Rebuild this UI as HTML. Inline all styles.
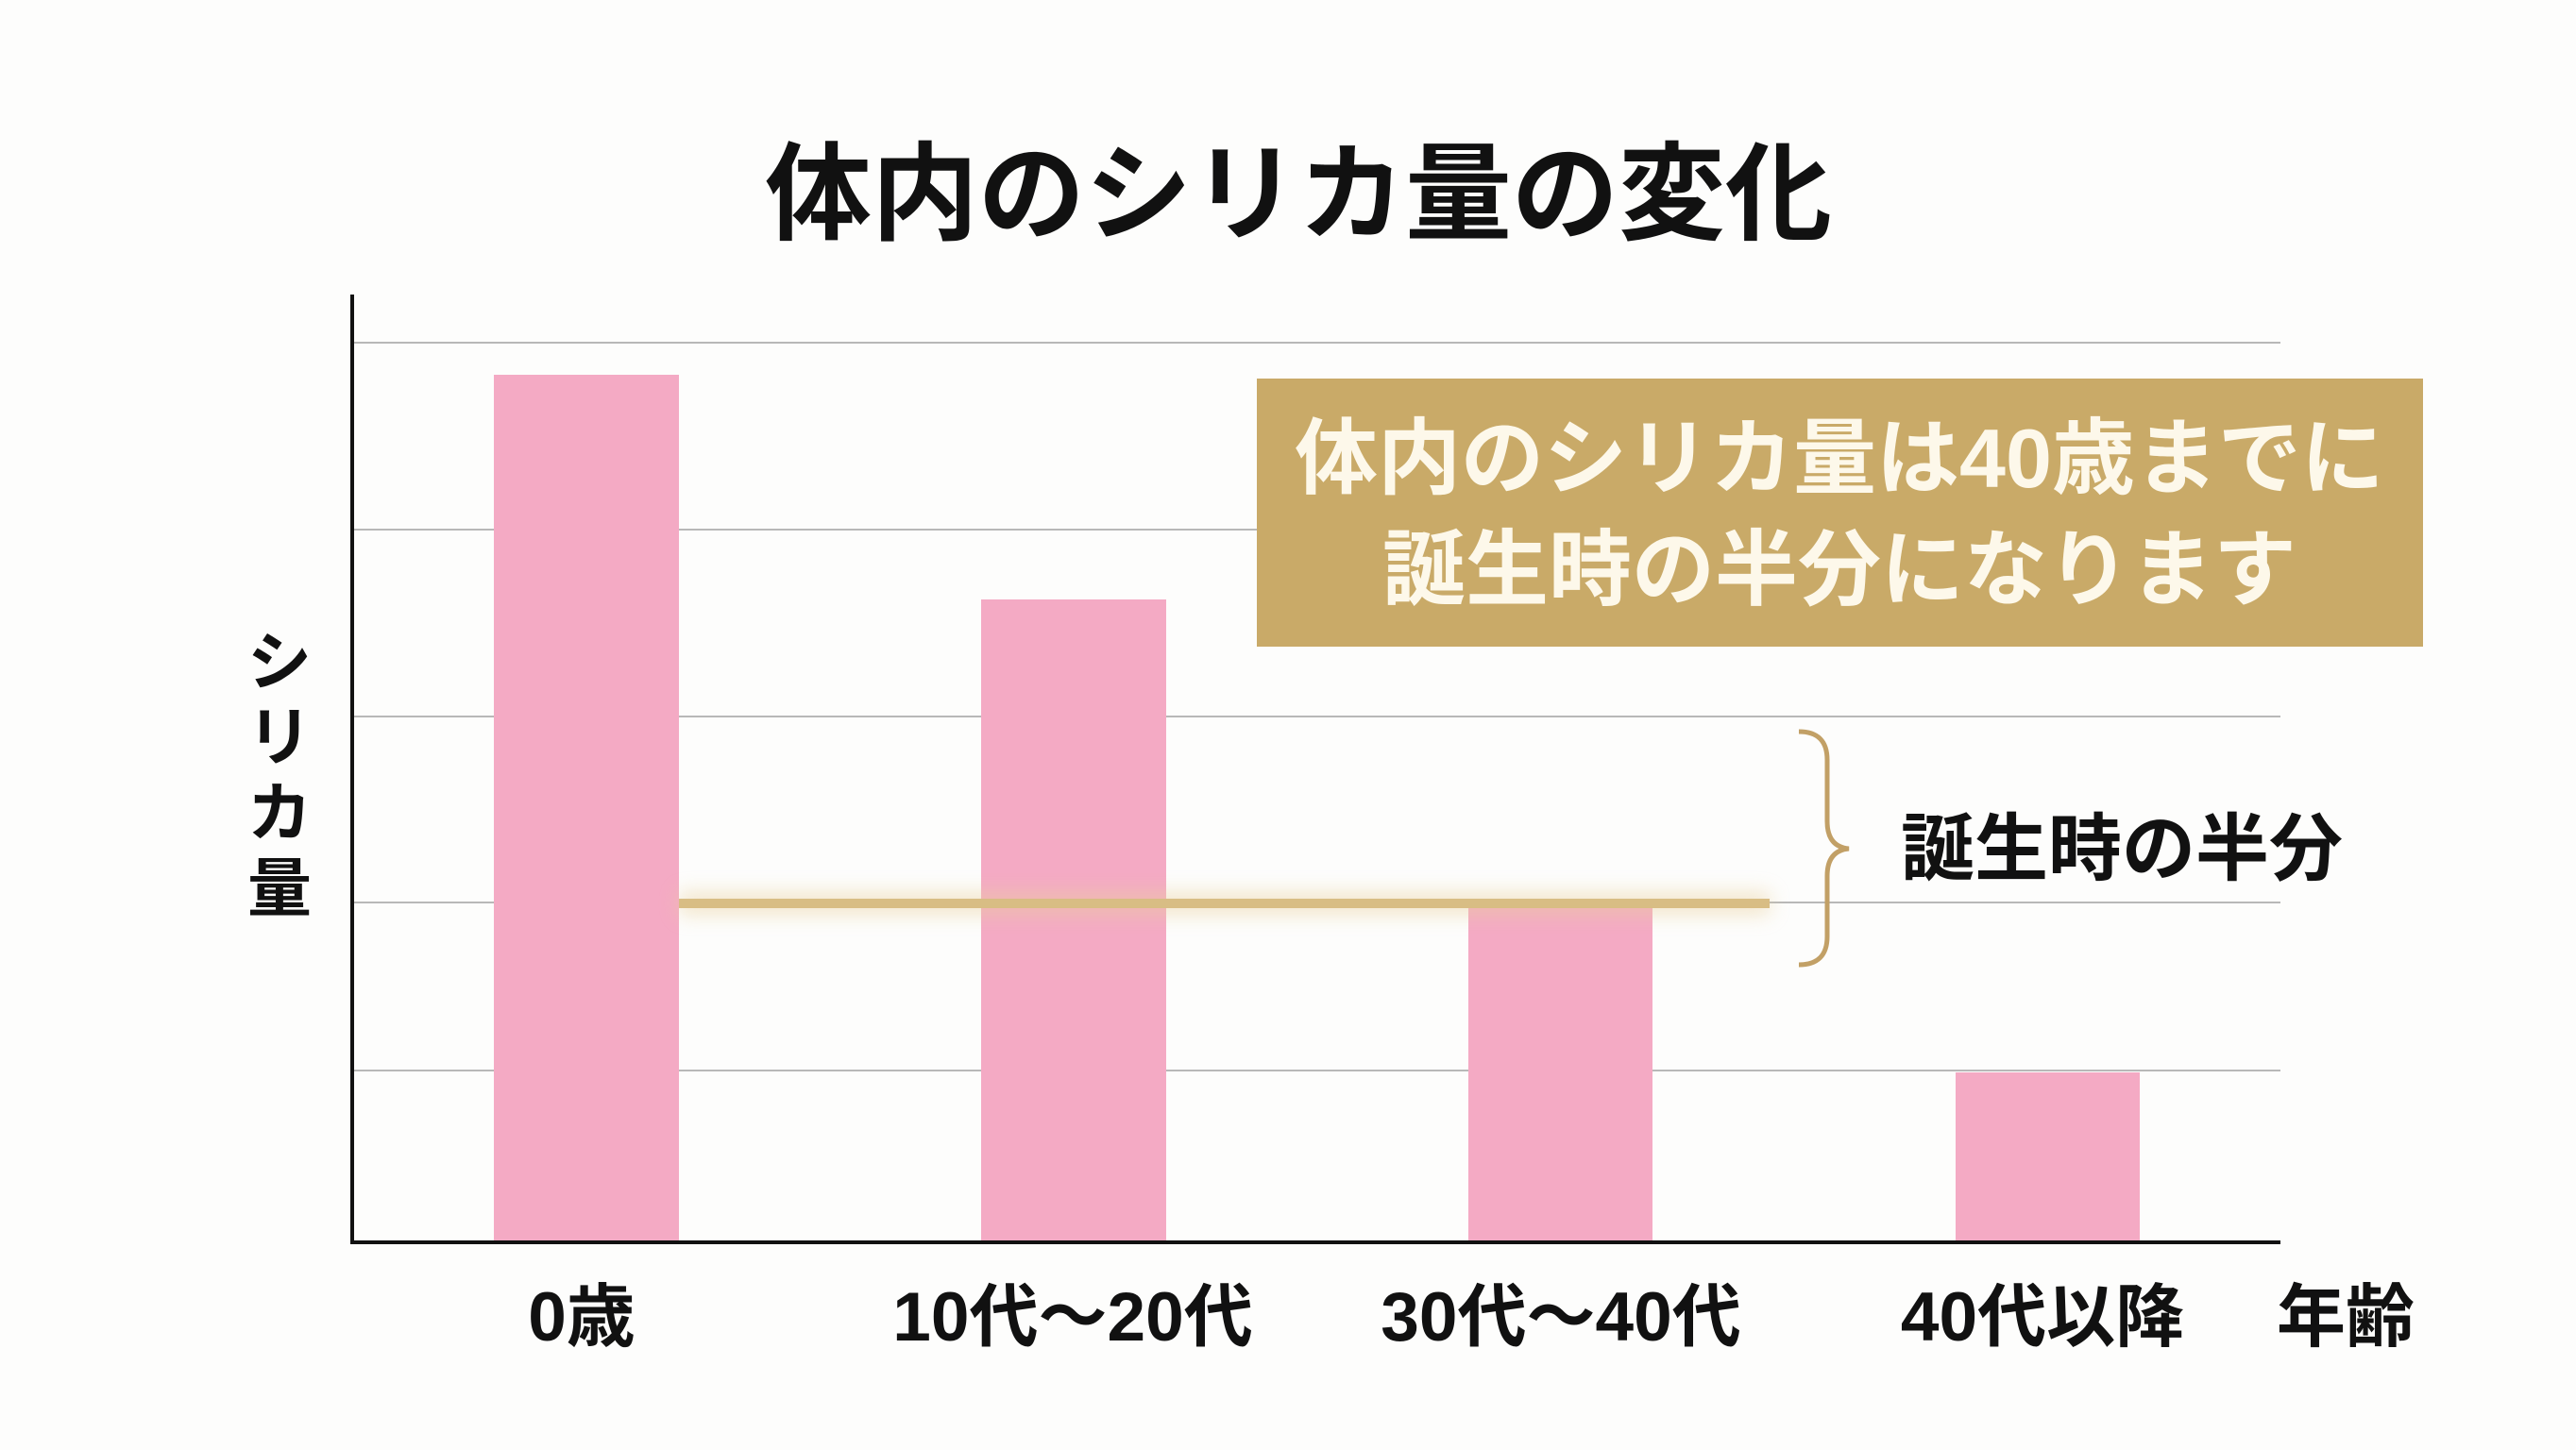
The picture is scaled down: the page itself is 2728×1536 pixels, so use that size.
<!DOCTYPE html>
<html><head><meta charset="utf-8"><style>
html,body{margin:0;padding:0;background:#fdfdfc;}
svg{display:block}
text{font-family:"Liberation Sans","Noto Sans CJK JP",sans-serif;font-weight:bold;}
</style></head><body>
<svg width="2728" height="1536" viewBox="0 0 2728 1536" xmlns="http://www.w3.org/2000/svg">
<defs>
<filter id="glow" x="-20%" y="-300%" width="140%" height="700%"><feGaussianBlur stdDeviation="10"/></filter>
</defs>
<rect width="2728" height="1536" fill="#fdfdfc"/>
<text x="1375" y="245" font-size="113" text-anchor="middle" fill="#111">体内のシリカ量の変化</text>
<g stroke="#b8b8b8" stroke-width="2">
<line x1="373" y1="363" x2="2415" y2="363"/>
<line x1="373" y1="561" x2="2415" y2="561"/>
<line x1="373" y1="759" x2="2415" y2="759"/>
<line x1="373" y1="956" x2="2415" y2="956"/>
<line x1="373" y1="1134" x2="2415" y2="1134"/>
</g>
<g fill="#f4aac4">
<rect x="523" y="397" width="196" height="918"/>
<rect x="1039" y="635" width="196" height="680"/>
<rect x="1555" y="962" width="195" height="353"/>
<rect x="2071" y="1136" width="195" height="179"/>
</g>
<rect x="719" y="945" width="1155" height="24" fill="#e8cf9a" opacity="0.5" filter="url(#glow)"/>
<rect x="719" y="952" width="1155" height="10" fill="#d8bd84"/>
<line x1="373" y1="312" x2="373" y2="1316" stroke="#111" stroke-width="4"/>
<line x1="371" y1="1316" x2="2415" y2="1316" stroke="#111" stroke-width="4"/>
<rect x="1331" y="401" width="1235" height="284" fill="#c9aa68"/>
<text x="1948" y="516" font-size="88" text-anchor="middle" fill="#fdf8ea">体内のシリカ量は40歳までに</text>
<text x="1948" y="634" font-size="88" text-anchor="middle" fill="#fdf8ea">誕生時の半分になります</text>
<path d="M1905 775 Q1935 775 1935 805 L1935 870 Q1935 897 1958 899 Q1935 901 1935 928 L1935 992 Q1935 1022 1905 1022" fill="none" stroke="#c2a066" stroke-width="5"/>
<text x="2013" y="926" font-size="78" fill="#111">誕生時の半分</text>
<g font-size="68" fill="#111" text-anchor="middle">
<text x="296" y="725">シ</text>
<text x="296" y="805">リ</text>
<text x="296" y="885">カ</text>
<text x="296" y="965">量</text>
</g>
<g font-size="73" fill="#111" text-anchor="middle">
<text x="616" y="1420">0歳</text>
<text x="1136" y="1420">10代〜20代</text>
<text x="1653" y="1420">30代〜40代</text>
<text x="2163" y="1420">40代以降</text>
<text x="2484" y="1420">年齢</text>
</g>
</svg>
</body></html>
